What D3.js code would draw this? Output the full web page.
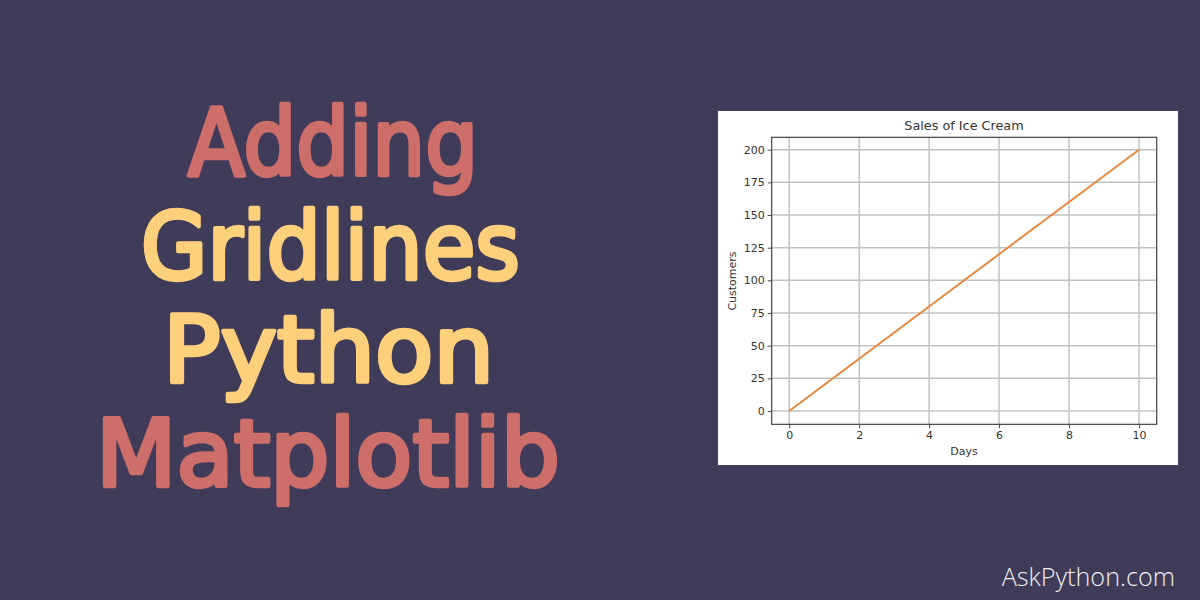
<!DOCTYPE html>
<html><head><meta charset="utf-8">
<script src="https://cdnjs.cloudflare.com/ajax/libs/d3/7.8.5/d3.min.js"></script>
<style>html,body{margin:0;padding:0;background:#3f3b59;overflow:hidden}svg{display:block}</style>
</head><body><svg id="c" width="1200" height="600"></svg>
<script>
const days=[0,2,4,6,8,10];
const customers=[0,40,80,120,160,200];
const xTicks=[0,2,4,6,8,10];
const yTicks=[0,25,50,75,100,125,150,175,200];
const headline=["Adding","Gridlines","Python","Matplotlib"];
const headlineColors=["#cd6e6a","#ffd07b","#ffd07b","#cd6e6a"];
const headlineLeft=[188,141,163,96];
const headlineWidth=[290,379,331,464];
const headlineBase=[174.5,278.5,381.5,485.5];

const svg=d3.select("#c");
svg.append("rect").attr("width",1200).attr("height",600).attr("fill","#3f3b59");
headline.forEach((t,i)=>{
  svg.append("text").text(t).attr("x",headlineLeft[i]).attr("y",headlineBase[i])
   .attr("textLength",headlineWidth[i]).attr("lengthAdjust","spacingAndGlyphs")
   .attr("font-family","DejaVu Sans").attr("font-weight",400).attr("font-size",92)
   .attr("fill",headlineColors[i]).attr("stroke",headlineColors[i])
   .attr("stroke-width",4.5).attr("stroke-linejoin","round");
});
svg.append("text").text("AskPython.com").attr("x",1175).attr("y",586).attr("text-anchor","end")
 .attr("font-family","Open Sans").attr("font-weight",300).attr("font-size",25.2).attr("fill","#f0f0f0");

svg.append("rect").attr("x",718).attr("y",111).attr("width",460).attr("height",354).attr("fill","#fff");
const L=771.7,R=1156.7,T=137.3,B=424.3;
const x=d3.scaleLinear().domain([0,10]).range([789.2,1139]);
const y=d3.scaleLinear().domain([0,200]).range([411,149.7]);
const font="DejaVu Sans";
const g=svg.append("g");
g.selectAll("line.gx").data(xTicks).join("line").attr("x1",d=>x(d)).attr("x2",d=>x(d)).attr("y1",T).attr("y2",B).attr("stroke","#c2c2c2").attr("stroke-width",1.5);
g.selectAll("line.gy").data(yTicks).join("line").attr("class","gy").attr("x1",L).attr("x2",R).attr("y1",d=>y(d)).attr("y2",d=>y(d)).attr("stroke","#c2c2c2").attr("stroke-width",1.5);
g.append("path").datum(days.map((d,i)=>[d,customers[i]])).attr("fill","none").attr("stroke","#ea873a").attr("stroke-width",2)
 .attr("d",d3.line().x(d=>x(d[0])).y(d=>y(d[1])));
g.append("rect").attr("x",L).attr("y",T).attr("width",R-L).attr("height",B-T).attr("fill","none").attr("stroke","#333").attr("stroke-width",1.1);
const ax=svg.append("g").attr("transform",`translate(0,${B})`).call(d3.axisBottom(x).tickValues(xTicks).tickSize(4).tickPadding(3).tickFormat(d3.format("d")));
const ay=svg.append("g").attr("transform",`translate(${L},0)`).call(d3.axisLeft(y).tickValues(yTicks).tickSize(4).tickPadding(3).tickFormat(d3.format("d")));
[ax,ay].forEach(a=>{a.select(".domain").remove();a.selectAll("text").attr("font-family",font).attr("font-size",11).attr("fill","#333");a.selectAll("line").attr("stroke","#333").attr("stroke-width",.9);});
svg.append("text").text("Sales of Ice Cream").attr("x",964).attr("y",130).attr("text-anchor","middle").attr("font-family",font).attr("font-size",12.8).attr("fill","#333");
svg.append("text").text("Days").attr("x",964).attr("y",455).attr("text-anchor","middle").attr("font-family",font).attr("font-size",11).attr("fill","#333");
svg.append("text").text("Customers").attr("transform","translate(736,281) rotate(-90)").attr("text-anchor","middle").attr("font-family",font).attr("font-size",11).attr("fill","#333");
</script></body></html>
